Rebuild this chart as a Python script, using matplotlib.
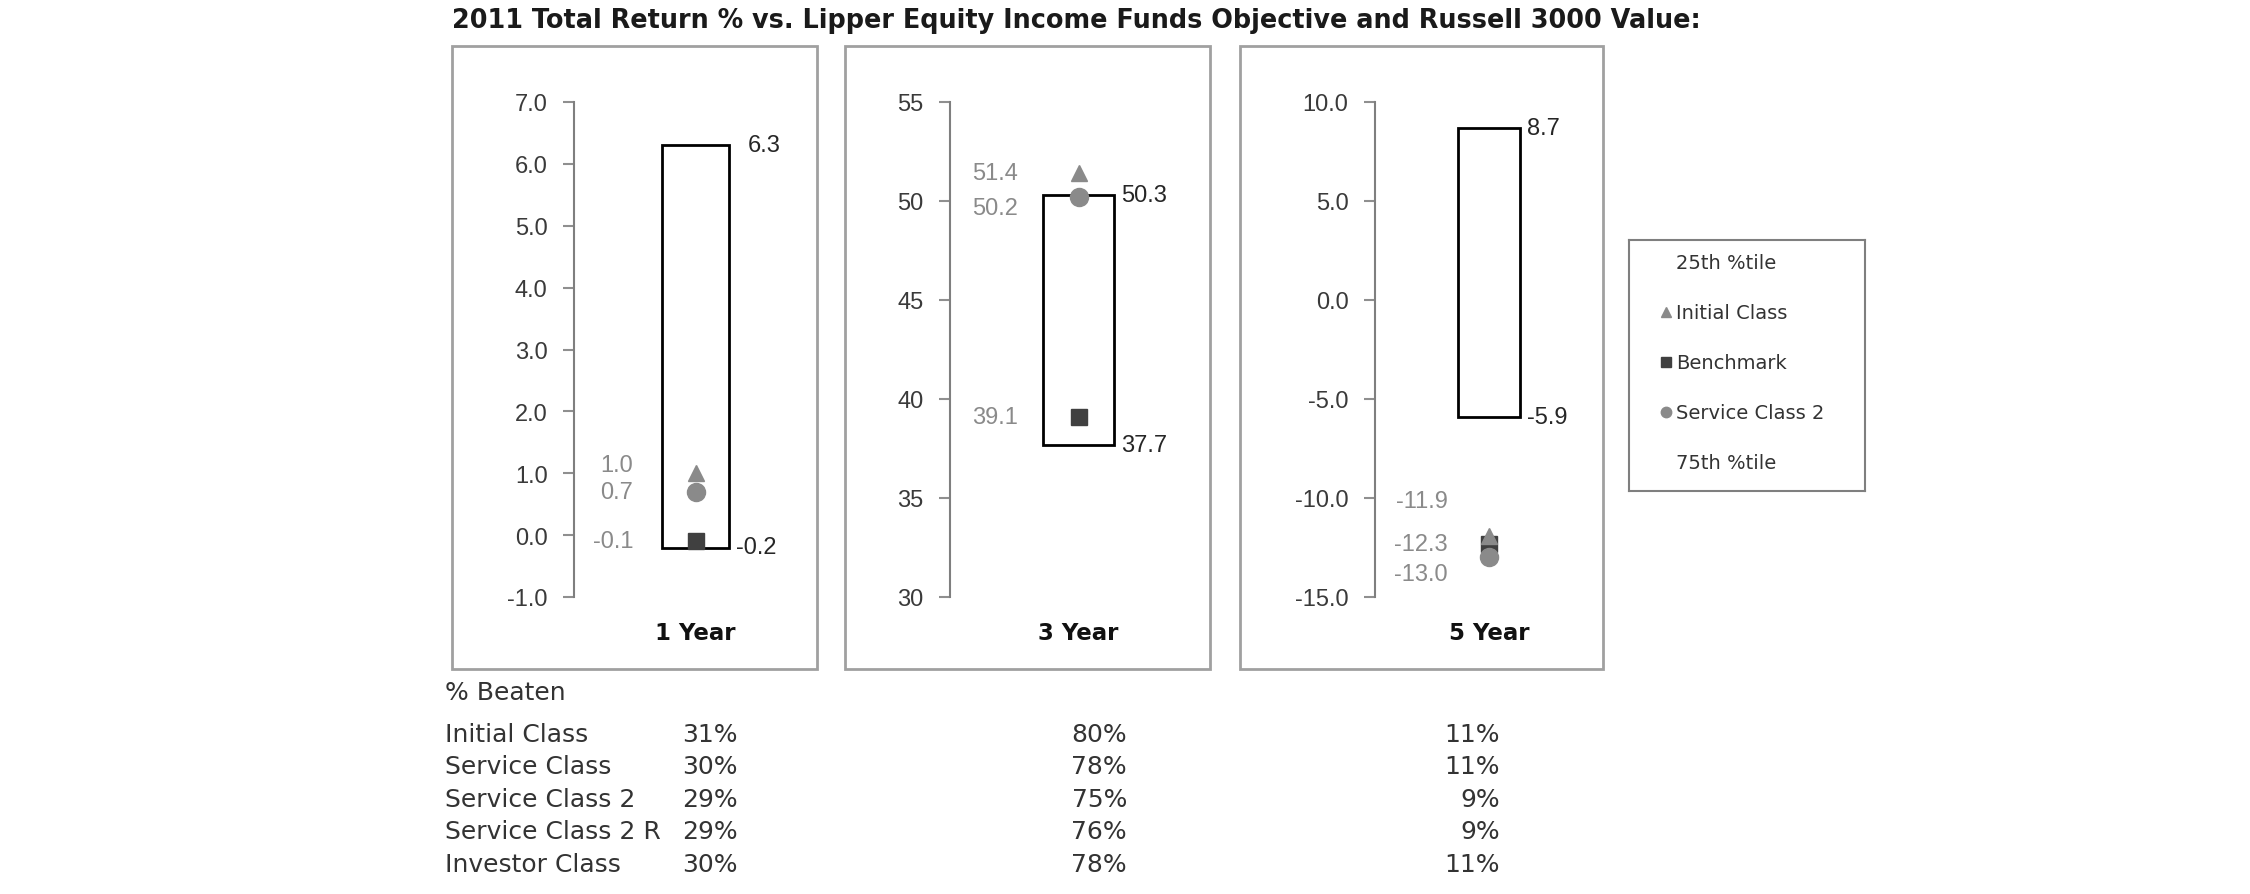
import numpy as np
import matplotlib

matplotlib.use("Agg")
import matplotlib.pyplot as plt
from matplotlib.patches import Rectangle

plt.rcParams["axes.unicode_minus"] = False

# --- data -------------------------------------------------------------
PERIODS = ["1 Year", "3 Year", "5 Year"]
TOP = [6.3, 50.3, 8.7]        # 25th %tile
BOTTOM = [-0.2, 37.7, -5.9]   # 75th %tile
INITIAL = [1.0, 51.4, -11.9]
BENCHMARK = [-0.1, 39.1, -12.3]
SERVICE2 = [0.7, 50.2, -13.0]
Y_RANGES = [(-1.0, 7.0, 1.0), (30, 55, 5), (-15.0, 10.0, 5.0)]
Y_FORMATS = ["{:.1f}", "{:.0f}", "{:.1f}"]

CLASSES = ["Initial Class", "Service Class", "Service Class 2",
           "Service Class 2 R", "Investor Class"]
BEATEN_1Y = [31, 30, 29, 29, 30]
BEATEN_3Y = [80, 78, 75, 76, 78]
BEATEN_5Y = [11, 11, 9, 9, 11]

LEGEND_LABELS = ["25th %tile", "Initial Class", "Benchmark",
                 "Service Class 2", "75th %tile"]

TITLE = ("2011 Total Return % vs. Lipper Equity Income Funds Objective "
         "and Russell 3000 Value:")

# --- layout (pixels of the 2250x895 canvas) ---------------------------
W, H = 2250, 895
PANEL_X = [(452, 817), (845, 1210), (1240, 1603)]
PANEL_Y = (47, 670)
AXIS_X = [574, 950, 1375]
BOX_X = [(662, 729), (1043, 1114), (1458, 1520)]
LEFT_LABEL_X = [633, 1018, 1448]
PLOT_Y = (103, 598)
# vertical nudges (px, + is down) for the grey value labels: initial, bench, sc2
NUDGE = [(-8, 0, 0), (0, 0, 11), (-35, 0, 17)]
# horizontal nudge (px) of the top percentile label
TOP_NUDGE = [12, 0, 0]
LEGEND_BOX = (1629, 241, 1865, 492)

GREY = "#8a8a8a"
DARK = "#404040"
FRAME = "#a0a0a0"
PT = 0.72  # points per pixel at dpi 100


def fx(x):
    return x / W


def fy(y):
    return 1 - y / H


fig = plt.figure(figsize=(W / 100, H / 100), dpi=100)
fig.patch.set_facecolor("white")

fig.text(fx(452), fy(21), TITLE, fontsize=18.4, fontweight="bold",
         color="#1a1a1a", ha="left", va="center", family="DejaVu Sans")

for i, period in enumerate(PERIODS):
    x0, x1 = PANEL_X[i]
    fig.add_artist(Rectangle((fx(x0), fy(PANEL_Y[1])), fx(x1 - x0),
                             (PANEL_Y[1] - PANEL_Y[0]) / H,
                             transform=fig.transFigure, fill=False,
                             edgecolor=FRAME, lw=2))

    right = x1 - 8
    ax = fig.add_axes([fx(AXIS_X[i]), fy(PLOT_Y[1]),
                       fx(right - AXIS_X[i]), (PLOT_Y[1] - PLOT_Y[0]) / H])
    ax.patch.set_alpha(0)
    c = (BOX_X[i][0] + BOX_X[i][1]) / 2
    bw = BOX_X[i][1] - BOX_X[i][0]
    ax.set_xlim((AXIS_X[i] - c) / bw, (right - c) / bw)
    lo, hi, step = Y_RANGES[i]
    ax.set_ylim(lo, hi)
    ticks = np.arange(lo, hi + step / 2, step)
    ax.set_yticks(ticks, labels=[Y_FORMATS[i].format(t) for t in ticks])
    ax.set_xticks([])
    for s in ("top", "right", "bottom"):
        ax.spines[s].set_visible(False)
    ax.spines["left"].set_color("#7f7f7f")
    ax.spines["left"].set_linewidth(1.5)
    ax.tick_params(axis="y", length=8, width=1.5, color="#8f8f8f", pad=11,
                   labelsize=17, labelcolor="#3a3a3a")
    for lab in ax.get_yticklabels():
        lab.set_family("Liberation Sans")

    ax.bar(0, TOP[i] - BOTTOM[i], bottom=BOTTOM[i], width=1.0,
           facecolor="white", edgecolor="black", lw=2, zorder=2)

    ax.plot(0, BENCHMARK[i], "s", ms=12, color=DARK, zorder=3, clip_on=False)
    ax.plot(0, INITIAL[i], "^", ms=12, color=GREY, zorder=4, clip_on=False)
    ax.plot(0, SERVICE2[i], "o", ms=13, color=GREY, zorder=5, clip_on=False)

    # grey value labels to the left of the box
    lx = (LEFT_LABEL_X[i] - c) / bw
    for val, dy in zip((INITIAL[i], BENCHMARK[i], SERVICE2[i]), NUDGE[i]):
        ax.annotate(f"{val:.1f}", (lx, val), xytext=(0, -dy * PT),
                    textcoords="offset points", ha="right", va="center",
                    fontsize=17, color=GREY, family="Liberation Sans")

    # percentile labels to the right of the box
    for val, dx in ((TOP[i], TOP_NUDGE[i]), (BOTTOM[i], 0)):
        ax.annotate(f"{val:.1f}", (0.5, val), xytext=(5 + dx * PT, 0),
                    textcoords="offset points", ha="left", va="center",
                    fontsize=17, color="#262626", family="Liberation Sans")

    ax.annotate(period, (0, 0), xycoords=("data", "axes fraction"),
                xytext=(0, -(634 - PLOT_Y[1]) * PT), textcoords="offset points",
                ha="center", va="center", fontsize=16.5, fontweight="bold",
                color="#111111", family="DejaVu Sans")

# legend box
lx0, ly0, lx1, ly1 = LEGEND_BOX
lax = fig.add_axes([fx(lx0), fy(ly1), fx(lx1 - lx0), (ly1 - ly0) / H])
lax.set_xlim(0, 1)
lax.set_ylim(0, 1)
lax.set_xticks([])
lax.set_yticks([])
for s in lax.spines.values():
    s.set_color("#7f7f7f")
    s.set_linewidth(1.5)
markers = [None, ("^", GREY), ("s", DARK), ("o", GREY), None]
ys = np.linspace(0.91, 0.115, len(LEGEND_LABELS))
for y, lab, mk in zip(ys, LEGEND_LABELS, markers):
    if mk:
        lax.plot(0.155, y, mk[0], ms=7.5, color=mk[1])
    lax.text(0.2, y, lab, fontsize=14, color="#333333", va="center",
             ha="left", family="DejaVu Sans")

# % beaten table
fig.text(fx(445), fy(693), "% Beaten", fontsize=18, color="#333333",
         va="center", ha="left")
row_y = np.linspace(735, 865, len(CLASSES))
for y, name, a, b, d in zip(row_y, CLASSES, BEATEN_1Y, BEATEN_3Y, BEATEN_5Y):
    fig.text(fx(445), fy(y), name, fontsize=18, color="#333333",
             va="center", ha="left")
    for xr, v in zip((738, 1127, 1500), (a, b, d)):
        fig.text(fx(xr), fy(y), f"{v}%", fontsize=18, color="#333333",
                 va="center", ha="right")

fig.savefig("out.png", dpi=100, facecolor="white")
